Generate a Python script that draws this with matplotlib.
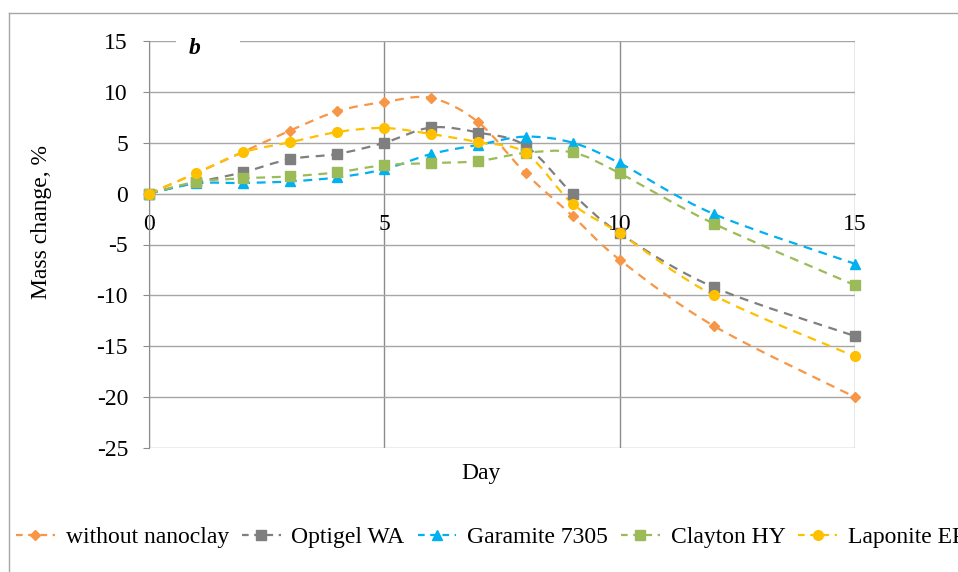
import numpy as np
import matplotlib
matplotlib.use("Agg")
import matplotlib.pyplot as plt
from matplotlib.path import Path
from matplotlib.patches import PathPatch, Rectangle
from matplotlib.lines import Line2D

plt.rcParams['font.family'] = ['Liberation Serif', 'DejaVu Serif']

days = [0, 1, 2, 3, 4, 5, 6, 7, 8, 9, 10, 12, 15]
series_names = ["without nanoclay", "Optigel WA", "Garamite 7305", "Clayton HY", "Laponite EP"]
without_nanoclay = [0, 2.0, 4.1, 6.2, 8.1, 9.0, 9.4, 7.0, 2.0, -2.2, -6.5, -13.0, -20.0]
optigel_wa = [0, 1.1, 2.1, 3.4, 3.9, 5.0, 6.5, 6.0, 4.7, 0.0, -3.9, -9.2, -14.0]
garamite_7305 = [0, 1.0, 1.05, 1.2, 1.6, 2.4, 3.9, 4.8, 5.6, 5.0, 3.0, -2.0, -6.9]
clayton_hy = [0, 1.15, 1.5, 1.7, 2.1, 2.8, 3.0, 3.2, 4.0, 4.05, 2.0, -2.95, -9.0]
laponite_ep = [0, 2.0, 4.05, 5.05, 6.05, 6.45, 5.85, 5.05, 4.0, -1.0, -3.9, -10.0, -16.0]
all_values = [without_nanoclay, optigel_wa, garamite_7305, clayton_hy, laponite_ep]

colors = ["#F79646", "#7F7F7F", "#00B0F0", "#9BBB59", "#FFC000"]
markers = ["D", "s", "^", "s", "o"]
msizes = [5.5, 6.5, 6.5, 6.5, 7]

W, H = 958, 572
PX = 72 / 100  # points per pixel
fig = plt.figure(figsize=(W / 100, H / 100), dpi=100)
ax = fig.add_axes([149 / W, 1 - 448 / H, (855 - 149) / W, (448 - 41) / H])
ax.set_xlim(0, 15)
ax.set_ylim(-25, 15)

def smooth_path(x, y):
    pts = np.column_stack([x, y]).astype(float)
    n = len(pts)
    verts = [pts[0]]
    codes = [Path.MOVETO]
    for i in range(n - 1):
        p0 = pts[i - 1] if i > 0 else pts[i]
        p1 = pts[i]
        p2 = pts[i + 1]
        p3 = pts[i + 2] if i + 2 < n else pts[i + 1]
        c1 = p1 + (p2 - p0) / 6.0
        c2 = p2 - (p3 - p1) / 6.0
        verts += [c1, c2, p2]
        codes += [Path.CURVE4] * 3
    return Path(verts, codes)

for vals, c, m, ms in zip(all_values, colors, markers, msizes):
    patch = PathPatch(smooth_path(days, vals), facecolor='none', edgecolor=c,
                      lw=1.6, linestyle=(0, (4, 3)), zorder=3)
    ax.add_patch(patch)
    ax.plot(days, vals, linestyle='none', marker=m, markersize=ms, color=c,
            markeredgecolor=c, zorder=4, clip_on=False)

# grid and axes
ax.set_yticks(np.arange(-25, 16, 5))
ax.set_yticklabels([str(v) for v in range(-25, 16, 5)])
ax.set_xticks([0, 5, 10, 15])
ax.set_xticklabels(["0", "5", "10", "15"])
for s in ['top', 'right']:
    ax.spines[s].set_visible(False)
ax.spines['left'].set_color('#8C8C8C')
ax.spines['bottom'].set_position(('data', 0))
ax.spines['bottom'].set_color('#A6A6A6')
ax.yaxis.grid(True, color='#A6A6A6', lw=1.0, zorder=0)
ax.xaxis.grid(True, color='#8C8C8C', lw=1.0, zorder=0)
ax.set_axisbelow(True)
ax.tick_params(axis='y', length=6 * PX, color='#8C8C8C', labelsize=17, pad=15 * PX)
ax.tick_params(axis='x', length=0, labelsize=17, pad=20 * PX)

fig.text(42 / W, 1 - 222 / H, "Mass change, %", fontsize=17, rotation=90,
         ha='center', va='center')
fig.text(481 / W, 1 - 474 / H, "Day", fontsize=17, ha='center', va='center')

# "b" label covering the top gridline
fig.add_artist(Rectangle((176 / W, 1 - 56 / H), 64 / W, 30 / H, transform=fig.transFigure,
                         facecolor='white', edgecolor='none', zorder=6))
fig.text(195 / W, 1 - 48 / H, "b", fontsize=17, fontweight='bold', fontstyle='italic',
         ha='center', va='center', zorder=7)

# outer frame
fig.add_artist(Line2D([9 / W, 1], [1 - 13 / H, 1 - 13 / H], transform=fig.transFigure,
                      color='#A6A6A6', lw=1.0))
fig.add_artist(Line2D([9 / W, 9 / W], [0, 1 - 13 / H], transform=fig.transFigure,
                      color='#A6A6A6', lw=1.0))

handles = [Line2D([], [], color=c, marker=m, markersize=ms, linestyle=(0, (3, 2.5)), lw=1.6)
           for c, m, ms in zip(colors, markers, msizes)]
fig.legend(handles, series_names, loc='center left', bbox_to_anchor=(16 / W, 1 - 537 / H),
           ncol=5, frameon=False, fontsize=17, handlelength=1.65, handletextpad=0.45,
           columnspacing=0.55, borderaxespad=0, borderpad=0)

fig.savefig("out.png", dpi=100)
